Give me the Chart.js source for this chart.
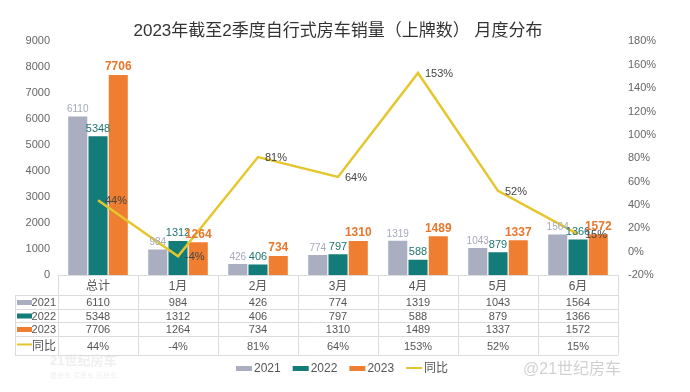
<!DOCTYPE html>
<html>
<head>
<meta charset="utf-8">
<script src="https://cdn.jsdelivr.net/npm/chart.js@4.4.0/dist/chart.umd.min.js"></script>
<style>
  html, body { margin: 0; padding: 0; background: #fff; }
  #wrap { width: 690px; height: 392px; }
</style>
</head>
<body>
<div id="wrap"><canvas id="chart" width="690" height="392"></canvas></div>
<script>
const categories = ['总计', '1月', '2月', '3月', '4月', '5月', '6月'];
const sales2021 = [6110, 984, 426, 774, 1319, 1043, 1564];
const sales2022 = [5348, 1312, 406, 797, 588, 879, 1366];
const sales2023 = [7706, 1264, 734, 1310, 1489, 1337, 1572];
const yoy = [44, -4, 81, 64, 153, 52, 15];

const FONT = '"Liberation Sans", "Noto Sans CJK SC", sans-serif';
const colors = { y2021: '#a9aec0', y2022: '#137b78', y2023: '#ef7e30', yoy: '#e6c62e' };

// value labels over bars and beside the line
const valueLabels = {
    id: 'valueLabels',
    afterDatasetsDraw(chart) {
        const ctx = chart.ctx;
        const styles = [
            { color: '#a4a9ba', font: '10px ' + FONT },
            { color: '#1e7472', font: '11px ' + FONT },
            { color: '#e8772c', font: 'bold 12px ' + FONT }
        ];
        ctx.save();
        ctx.textAlign = 'center';
        ctx.textBaseline = 'bottom';
        for (let d = 0; d < 3; d++) {
            const meta = chart.getDatasetMeta(d);
            ctx.fillStyle = styles[d].color;
            ctx.font = styles[d].font;
            meta.data.forEach((bar, i) => {
                ctx.fillText(chart.data.datasets[d].data[i], bar.x, bar.y - 2);
            });
        }
        const lineMeta = chart.getDatasetMeta(3);
        ctx.fillStyle = '#444';
        ctx.font = '11px ' + FONT;
        ctx.textAlign = 'left';
        ctx.textBaseline = 'middle';
        lineMeta.data.forEach((pt, i) => {
            ctx.fillText(yoy[i] + '%', pt.x + 7, pt.y + 1);
        });
        ctx.restore();
    }
};

// data table under the axis, the custom legend and the watermarks
const dataTable = {
    id: 'dataTable',
    afterDraw(chart) {
        const ctx = chart.ctx;
        const x = chart.scales.x;
        const area = chart.chartArea;
        const colW = x.width / categories.length;
        const top = area.bottom;
        const lines = [top, top + 20, top + 34, top + 47, top + 61, top + 80];
        const left = 15;
        ctx.save();
        ctx.strokeStyle = '#dcdcdc';
        ctx.lineWidth = 1;
        ctx.beginPath();
        ctx.moveTo(area.left, top + 0.5);
        ctx.lineTo(area.right, top + 0.5);
        for (let r = 1; r < lines.length; r++) {
            ctx.moveTo(left, lines[r] + 0.5);
            ctx.lineTo(area.right, lines[r] + 0.5);
        }
        for (let c = 0; c <= categories.length; c++) {
            const cx = Math.round(area.left + c * colW) + 0.5;
            ctx.moveTo(cx, top);
            ctx.lineTo(cx, lines[lines.length - 1]);
        }
        ctx.moveTo(left + 0.5, lines[1]);
        ctx.lineTo(left + 0.5, lines[lines.length - 1]);
        ctx.stroke();

        const rows = [
            { label: '2021', values: sales2021, color: colors.y2021 },
            { label: '2022', values: sales2022, color: colors.y2022 },
            { label: '2023', values: sales2023, color: colors.y2023 },
            { label: '同比', values: yoy.map(v => v + '%'), color: colors.yoy, line: true }
        ];
        ctx.textBaseline = 'middle';
        rows.forEach((row, r) => {
            const cy = (lines[r + 1] + lines[r + 2]) / 2;
            ctx.fillStyle = row.color;
            if (row.line) {
                ctx.fillRect(17, cy - 2, 15, 2);
            } else {
                ctx.fillRect(17, cy - 2, 15, 5);
            }
            ctx.fillStyle = '#555';
            ctx.font = (row.line ? '12px ' : '11px ') + FONT;
            ctx.textAlign = 'right';
            ctx.fillText(row.label, 56, cy + 1);
            ctx.font = '11px ' + FONT;
            ctx.textAlign = 'center';
            row.values.forEach((v, i) => {
                ctx.fillText(v, x.getPixelForValue(i), cy + 1);
            });
        });

        // legend
        const legendY = 368;
        let lx = 236;
        ctx.font = '12px ' + FONT;
        ctx.textAlign = 'left';
        chart.data.datasets.forEach(ds => {
            ctx.fillStyle = ds.type === 'line' ? ds.borderColor : ds.backgroundColor;
            if (ds.type === 'line') {
                ctx.fillRect(lx, legendY - 1, 16, 2);
            } else {
                ctx.fillRect(lx, legendY - 2, 16, 5);
            }
            ctx.fillStyle = '#555';
            ctx.fillText(ds.label, lx + 18, legendY + 1);
            lx += 18 + ctx.measureText(ds.label).width + 12;
        });

        // watermarks
        ctx.fillStyle = 'rgba(190,190,190,0.7)';
        ctx.font = '16px ' + FONT;
        ctx.fillText('@21世纪房车', 523, 370);
        ctx.fillStyle = 'rgba(220,220,220,0.45)';
        ctx.font = 'bold 13px ' + FONT;
        ctx.fillText('21世纪房车', 50, 361);
        ctx.font = '7px ' + FONT;
        ctx.fillText('看房车 买房车 玩房车', 50, 376);
        ctx.restore();
    }
};

new Chart(document.getElementById('chart'), {
    data: {
        labels: categories,
        datasets: [
            { type: 'bar', label: '2021', data: sales2021, backgroundColor: colors.y2021, yAxisID: 'y', order: 1 },
            { type: 'bar', label: '2022', data: sales2022, backgroundColor: colors.y2022, yAxisID: 'y', order: 1 },
            { type: 'bar', label: '2023', data: sales2023, backgroundColor: colors.y2023, yAxisID: 'y', order: 1 },
            {
                type: 'line', label: '同比', data: yoy, borderColor: colors.yoy, backgroundColor: colors.yoy,
                borderWidth: 2.5, pointRadius: 0, tension: 0, yAxisID: 'y1', order: 0
            }
        ]
    },
    options: {
        responsive: false,
        animation: false,
        layout: { padding: { top: 0, bottom: 0, left: 0, right: 0 } },
        datasets: { bar: { categoryPercentage: 0.76, barPercentage: 0.94 } },
        plugins: {
            legend: { display: false },
            tooltip: { enabled: false },
            title: {
                display: true,
                text: '2023年截至2季度自行式房车销量（上牌数） 月度分布',
                color: '#333',
                font: { family: FONT, size: 17, weight: 'normal' },
                padding: { top: 21, bottom: 0 },
                fullSize: false
            }
        },
        scales: {
            x: {
                grid: { display: false, drawTicks: false },
                border: { display: false },
                ticks: { color: '#555', font: { family: FONT, size: 12 }, padding: 4 },
                afterFit(scale) { scale.height = 117; }
            },
            y: {
                position: 'left',
                min: 0, max: 9000,
                grid: { display: false, drawTicks: false },
                border: { display: false },
                ticks: { stepSize: 1000, color: '#666', font: { family: FONT, size: 11 }, padding: 8, callback: v => String(v) },
                afterFit(scale) { scale.width = 58; }
            },
            y1: {
                position: 'right',
                min: -20, max: 180,
                grid: { display: false, drawTicks: false },
                border: { display: false },
                ticks: { stepSize: 20, color: '#666', font: { family: FONT, size: 11 }, padding: 10, callback: v => v + '%' },
                afterFit(scale) { scale.width = 72; }
            }
        }
    },
    plugins: [valueLabels, dataTable]
});
</script>
</body>
</html>
